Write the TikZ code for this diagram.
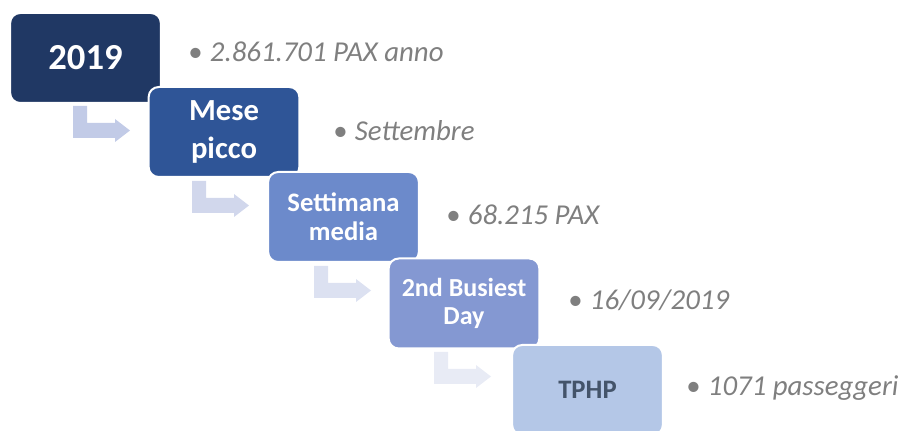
\documentclass[tikz,border=0pt]{standalone}
\usepackage{fontspec}
\setmainfont{Carlito}
\definecolor{stepA}{HTML}{203864}
\definecolor{stepB}{HTML}{2F5597}
\definecolor{stepC}{HTML}{6C8ACB}
\definecolor{stepD}{HTML}{8498D2}
\definecolor{stepE}{HTML}{B4C7E7}
\definecolor{arrA}{HTML}{C2CBE7}
\definecolor{arrB}{HTML}{D1D7EC}
\definecolor{arrC}{HTML}{DCE1F1}
\definecolor{arrD}{HTML}{E8EBF5}
\definecolor{notegray}{HTML}{7F7F7F}
\definecolor{darkslate}{HTML}{44546A}
\tikzset{
  stepbox/.style={draw=white, line width=1.5pt, rounded corners=7.5pt,
    minimum width=113pt, minimum height=67.5pt, inner sep=2pt,
    align=center, text=white, font=\bfseries},
  note/.style={anchor=west, text=notegray, inner sep=0pt,
    font=\fontsize{21.6}{25}\selectfont},
  bentarrow/.pic={
    \fill[pic actions] (0,0) -- (14,0) -- (14,17) -- (42,17) -- (42,13)
      -- (57,24.5) -- (42,36) -- (42,32) -- (0,32) -- cycle;
  }
}
\newcommand{\notetext}[1]{\textbullet\hspace{5.5pt}{\itshape #1}}
\begin{document}
\begin{tikzpicture}[x=0.75pt, y=-0.75pt]
  \useasboundingbox (0,0) rectangle (901,431);
  \clip (0,0) rectangle (901,431);

  \node[stepbox, fill=stepA, font=\bfseries\fontsize{27.5}{30}\selectfont]
    (y2019) at (85.5,58) {2019};
  \pic[fill=arrA] at (73,106) {bentarrow};
  \node[stepbox, fill=stepB, font=\bfseries\fontsize{23}{28}\selectfont]
    (mese) at (224,132) {Mese\\picco};
  \pic[fill=arrB] at (192,181) {bentarrow};
  \node[stepbox, fill=stepC, font=\bfseries\fontsize{20}{22}\selectfont]
    (sett) at (343.5,217) {Settimana\\media};
  \pic[fill=arrC] at (314,266) {bentarrow};
  \node[stepbox, fill=stepD, font=\bfseries\fontsize{19.5}{21}\selectfont]
    (busy) at (464,303.5) {2nd Busiest\\Day};
  \pic[fill=arrD] at (434,352) {bentarrow};
  \node[stepbox, fill=stepE, text=darkslate, font=\bfseries\fontsize{20}{22}\selectfont]
    (tphp) at (587.5,390) {TPHP};

  \node[note] (n1) at (188,52) {\notetext{2.861.701 PAX anno}};
  \node[note] (n2) at (333,131) {\notetext{Settembre}};
  \node[note] (n3) at (446,215) {\notetext{68.215 PAX}};
  \node[note] (n4) at (568,300) {\notetext{16/09/2019}};
  \node[note] (n5) at (686,388) {\notetext{1071 passeggeri}};
\end{tikzpicture}
\end{document}
